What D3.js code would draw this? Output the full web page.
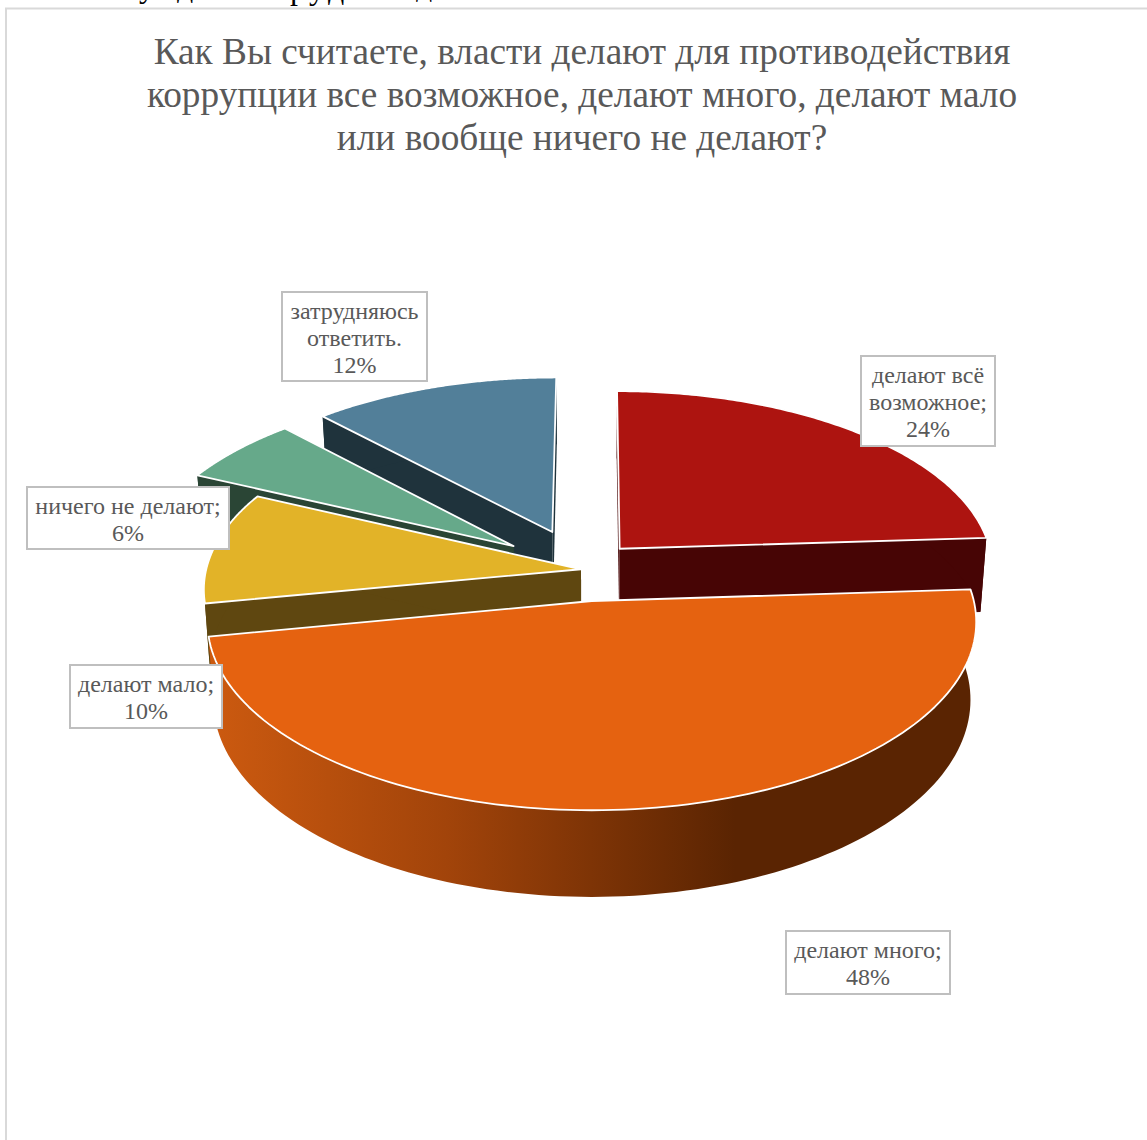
<!DOCTYPE html>
<html>
<head>
<meta charset="utf-8">
<script src="https://cdn.jsdelivr.net/npm/d3@7"></script>
<style>
  html, body { margin: 0; background: #fff; }
  svg { display: block; }
  text { font-family: "Liberation Serif", serif; fill: #595959; }
</style>
</head>
<body>
<div id="chart"></div>
<script>
var titleLines = [
  'Как Вы считаете, власти делают для противодействия',
  'коррупции все возможное, делают много, делают мало',
  'или вообще ничего не делают?'
];

// slices in chart order, clockwise from 12 o'clock
var categories = ['делают всё возможное', 'делают много', 'делают мало', 'ничего не делают', 'затрудняюсь ответить'];
var values = [24, 48, 10, 6, 12];

var topColors = ['#ad1410', '#e56210', '#e2b328', '#66a98a', '#527f99'];
var wallColors = ['#470505', 'url(#orangeWall)', '#5f4710', '#2a4535', '#1f333c'];

// how far each slice is pulled out of the pie, in radius units
var shiftX = [0.072, -0.003, -0.032, -0.215, -0.111];
var shiftY = [-0.29, 0, -0.174, -0.305, -0.387];

// back to front
var paintOrder = [4, 0, 3, 2, 1];

// label boxes: [x0, y0, x1, y1], text lines
var labels = [
  { box: [861, 356, 995, 446], lines: ['делают всё', 'возможное;', '24%'] },
  { box: [786, 931, 950, 994], lines: ['делают много;', '48%'] },
  { box: [70, 665, 222, 728], lines: ['делают мало;', '10%'] },
  { box: [27, 487, 229, 549], lines: ['ничего не делают;', '6%'] },
  { box: [282, 292, 427, 381], lines: ['затрудняюсь', 'ответить.', '12%'] }
];

var width = 1147
  , height = 1140
  , cx = 593
  , cy = 601
  , radiusX = 382
  , radiusY = 186
  , camera = 9
  , depth = 77
  , lowShrink = 0.985   // the bottom of the pie is further from the eye
  ;

var svg = d3.select('#chart').append('svg')
    .attr('width', width)
    .attr('height', height);

// gradient on the round side of the big slice
var grad = svg.append('defs').append('linearGradient')
    .attr('id', 'orangeWall')
    .attr('gradientUnits', 'userSpaceOnUse')
    .attr('x1', 210).attr('x2', 735)
    .attr('y1', 0).attr('y2', 0);
grad.append('stop').attr('offset', 0).attr('stop-color', '#cc5a10');
grad.append('stop').attr('offset', 0.45).attr('stop-color', '#a2440a');
grad.append('stop').attr('offset', 1).attr('stop-color', '#5a2402');

// the cut off line of text above the chart frame
svg.append('g').selectAll('text')
    .data([[139, 'у', -3], [177, 'д', -3], [290, 'р', -1], [309, 'у', -1], [328, 'д', -1], [416, 'д', -4]])
  .join('text')
    .attr('x', d => d[0])
    .attr('y', d => d[2])
    .style('font-size', '32px')
    .style('fill', '#000')
    .text(d => d[1]);

// chart frame, only top and left are in the picture
svg.append('path')
    .attr('d', 'M6,' + height + 'V8.5H' + width)
    .attr('fill', 'none')
    .attr('stroke', '#d9d9d9')
    .attr('stroke-width', 2);

svg.append('g').selectAll('text')
    .data(titleLines)
  .join('text')
    .attr('x', 582)
    .attr('y', (d, i) => 64 + i * 43)
    .attr('text-anchor', 'middle')
    .style('font-size', '37.3px')
    .text(d => d);

// pie plane to screen, with perspective
function project(X, Y, drop) {
  var s = 1 / (1 - Y / camera);
  return [cx + radiusX * X * s * (drop ? lowShrink : 1), cy + radiusY * Y * s + (drop ? depth * s : 0)];
}

var line = d3.line();

var arcs = d3.pie().sort(null)(values);

var pies = svg.append('g');

paintOrder.forEach(function (i) {
  var a = arcs[i]
    , sx = shiftX[i]
    , sy = shiftY[i]
    , steps = d3.range(0, 1.0001, 1 / 120).map(t => a.startAngle + t * (a.endAngle - a.startAngle))
    , rim = steps.map(t => [sx + Math.sin(t), sy - Math.cos(t)])
    , rimTop = rim.map(p => project(p[0], p[1], false))
    , rimLow = rim.map(p => project(p[0], p[1], true))
    , apexTop = project(sx, sy, false)
    , apexLow = project(sx, sy, true)
    , g = pies.append('g').attr('class', 'slice').datum(categories[i])
    ;

  // two flat sides, then the round side
  [0, rim.length - 1].forEach(function (k) {
    g.append('path')
        .attr('d', line([apexTop, rimTop[k], rimLow[k], apexLow]) + 'Z')
        .attr('fill', wallColors[i]);
  });
  g.append('path')
      .attr('d', line(rimTop.concat(rimLow.slice().reverse())) + 'Z')
      .attr('fill', wallColors[i]);

  g.append('path')
      .attr('d', line([apexTop].concat(rimTop)) + 'Z')
      .attr('fill', topColors[i])
      .attr('stroke', '#fff')
      .attr('stroke-width', 1.8)
      .attr('stroke-linejoin', 'round');
});

var lab = svg.append('g').selectAll('g')
    .data(labels)
  .join('g');

lab.append('rect')
    .attr('x', d => d.box[0])
    .attr('y', d => d.box[1])
    .attr('width', d => d.box[2] - d.box[0])
    .attr('height', d => d.box[3] - d.box[1])
    .attr('fill', '#fff')
    .attr('stroke', '#bfbfbf')
    .attr('stroke-width', 2);

lab.each(function (d) {
  d3.select(this).selectAll('text')
      .data(d.lines)
    .join('text')
      .attr('x', (d.box[0] + d.box[2]) / 2)
      .attr('y', (t, i) => d.box[1] + 27 + i * 27)
      .attr('text-anchor', 'middle')
      .style('font-size', '24px')
      .text(t => t);
});
</script>
</body>
</html>
